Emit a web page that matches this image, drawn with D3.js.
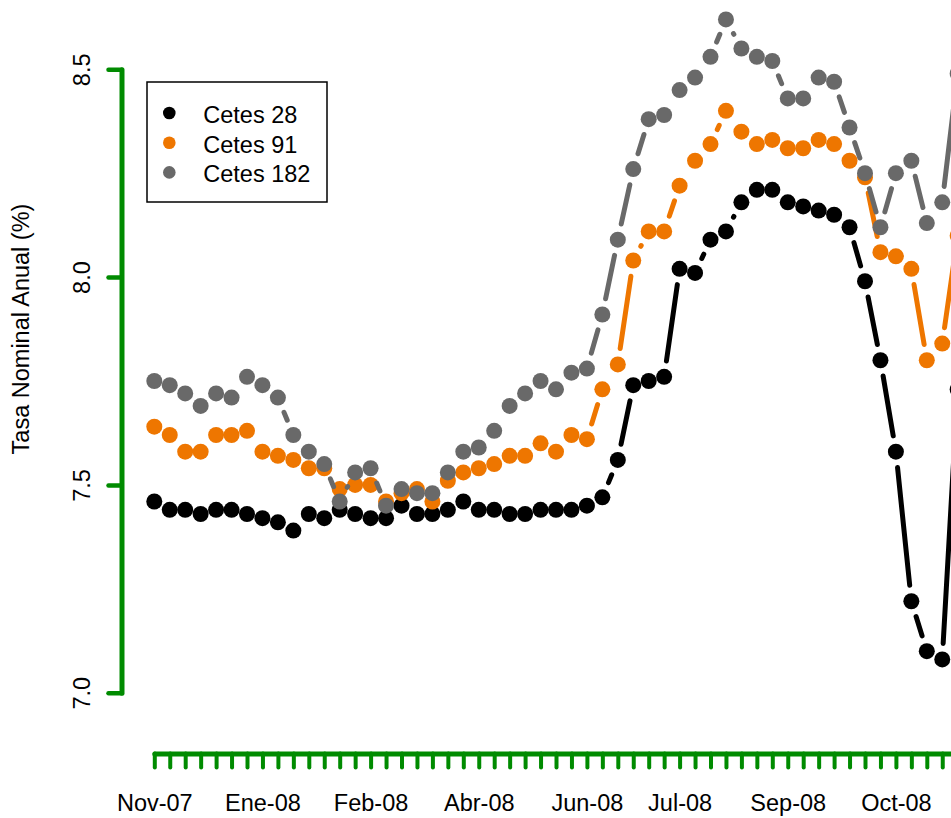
<!DOCTYPE html>
<html>
<head>
<meta charset="utf-8">
<script src="https://cdn.jsdelivr.net/npm/d3@7"></script>
<style>
  html, body { margin: 0; padding: 0; background: #fff; }
  svg { display: block; }
  text { font-family: "Liberation Sans", Arial, sans-serif; }
</style>
</head>
<body>
<svg id="chart" width="951" height="818"></svg>
<script>
const seriesNames = ["Cetes 28", "Cetes 91", "Cetes 182"];
const seriesColors = ["#000000", "#EE7600", "#696969"];

const cetes28 = [7.46,7.44,7.44,7.43,7.44,7.44,7.43,7.42,7.41,7.39,
  7.43,7.42,7.44,7.43,7.42,7.42,7.45,7.43,7.43,7.44,
  7.46,7.44,7.44,7.43,7.43,7.44,7.44,7.44,7.45,7.47,
  7.56,7.74,7.75,7.76,8.02,8.01,8.09,8.11,8.18,8.21,
  8.21,8.18,8.17,8.16,8.15,8.12,7.99,7.80,7.58,7.22,
  7.10,7.08,7.73];
const cetes91 = [7.64,7.62,7.58,7.58,7.62,7.62,7.63,7.58,7.57,7.56,
  7.54,7.54,7.49,7.50,7.50,7.46,7.48,7.49,7.46,7.51,
  7.53,7.54,7.55,7.57,7.57,7.60,7.58,7.62,7.61,7.73,
  7.79,8.04,8.11,8.11,8.22,8.28,8.32,8.40,8.35,8.32,
  8.33,8.31,8.31,8.33,8.32,8.28,8.24,8.06,8.05,8.02,
  7.80,7.84,8.10];
const cetes182 = [7.75,7.74,7.72,7.69,7.72,7.71,7.76,7.74,7.71,7.62,
  7.58,7.55,7.46,7.53,7.54,7.45,7.49,7.48,7.48,7.53,
  7.58,7.59,7.63,7.69,7.72,7.75,7.73,7.77,7.78,7.91,
  8.09,8.26,8.38,8.39,8.45,8.48,8.53,8.62,8.55,8.53,
  8.52,8.43,8.43,8.48,8.47,8.36,8.25,8.12,8.25,8.28,
  8.13,8.18,8.49];

// x tick labels: position (week index) and text
const labelWeeks = [0, 7, 14, 21, 28, 34, 41, 48];
const labelTexts = ["Nov-07", "Ene-08", "Feb-08", "Abr-08", "Jun-08", "Jul-08", "Sep-08", "Oct-08"];
const yTicks = [7.0, 7.5, 8.0, 8.5];

const yTitle = "Tasa Nominal Anual (%)";
// ------------------------------------------------------------

const series = [cetes28, cetes91, cetes182];
const nPts = cetes28.length;
const weeks = d3.range(nPts);

const svg = d3.select("#chart");
const green = "#008B00";
const FS = 23.5;

const x = d3.scaleLinear().domain([0, nPts - 1]).range([154.3, 154.3 + (nPts - 1) * 15.45]);
const y = d3.scaleLinear().domain([7.0, 8.5]).range([692.7, 69.3]);

// Y axis
const yAxisG = svg.append("g")
  .attr("transform", "translate(121.5,0)")
  .call(d3.axisLeft(y).tickValues(yTicks).tickSize(13).tickSizeOuter(0).tickFormat(d3.format(".1f")));
yAxisG.select(".domain").attr("stroke", green).attr("stroke-width", 5).attr("stroke-linecap", "round");
yAxisG.selectAll(".tick line").attr("stroke", green).attr("stroke-width", 4.5).attr("stroke-linecap", "round");
yAxisG.selectAll(".tick text")
  .attr("x", null).attr("dy", null)
  .attr("transform", "translate(-31.5,0) rotate(-90)")
  .attr("text-anchor", "middle")
  .attr("fill", "#000")
  .style("font-size", FS + "px");

// X axis
const xAxisG = svg.append("g")
  .attr("transform", "translate(0,753.5)")
  .call(d3.axisBottom(x).tickValues(weeks).tickSize(14).tickSizeOuter(0)
    .tickFormat(d => { const k = labelWeeks.indexOf(d); return k >= 0 ? labelTexts[k] : ""; }));
xAxisG.select(".domain").attr("stroke", green).attr("stroke-width", 5).attr("stroke-linecap", "round");
xAxisG.selectAll(".tick line").attr("stroke", green).attr("stroke-width", 4).attr("stroke-linecap", "round");
xAxisG.selectAll(".tick text")
  .attr("y", 57.5).attr("dy", null)
  .attr("fill", "#000")
  .style("font-size", FS + "px");
svg.selectAll(".domain").attr("fill", "none");

// Y title
svg.append("text")
  .attr("transform", "translate(29,329) rotate(-90)")
  .attr("text-anchor", "middle")
  .style("font-size", FS + "px")
  .attr("fill", "#000")
  .text(yTitle);

// Series: R type "b" (lines with gaps around points)
const GAP = 16;
series.forEach((vals, si) => {
  const pts = vals.map((v, i) => [x(i), y(v)]);
  let d = "";
  for (let i = 0; i < pts.length - 1; i++) {
    const [x1, y1] = pts[i], [x2, y2] = pts[i + 1];
    const dx = x2 - x1, dy = y2 - y1, L = Math.hypot(dx, dy);
    if (L > 2 * GAP) {
      const ux = dx / L, uy = dy / L;
      d += `M${x1 + ux * GAP},${y1 + uy * GAP}L${x2 - ux * GAP},${y2 - uy * GAP}`;
    }
  }
  const g = svg.append("g");
  g.append("path").attr("d", d).attr("fill", "none")
    .attr("stroke", seriesColors[si]).attr("stroke-width", 5).attr("stroke-linecap", "round");
  g.selectAll("circle").data(vals).join("circle")
    .attr("cx", (v, i) => x(i)).attr("cy", v => y(v)).attr("r", 8)
    .attr("fill", seriesColors[si]);
});

// Legend
const lg = svg.append("g");
lg.append("rect").attr("x", 147).attr("y", 82).attr("width", 180).attr("height", 120)
  .attr("fill", "#fff").attr("stroke", "#000").attr("stroke-width", 1.5);
seriesNames.forEach((nm, i) => {
  const cy = 113 + i * 29.7;
  lg.append("circle").attr("cx", 169.3).attr("cy", cy).attr("r", 6.3).attr("fill", seriesColors[i]);
  lg.append("text").attr("x", 203.3).attr("y", cy + 10).style("font-size", FS + "px")
    .attr("fill", "#000").text(nm);
});
</script>
</body>
</html>
